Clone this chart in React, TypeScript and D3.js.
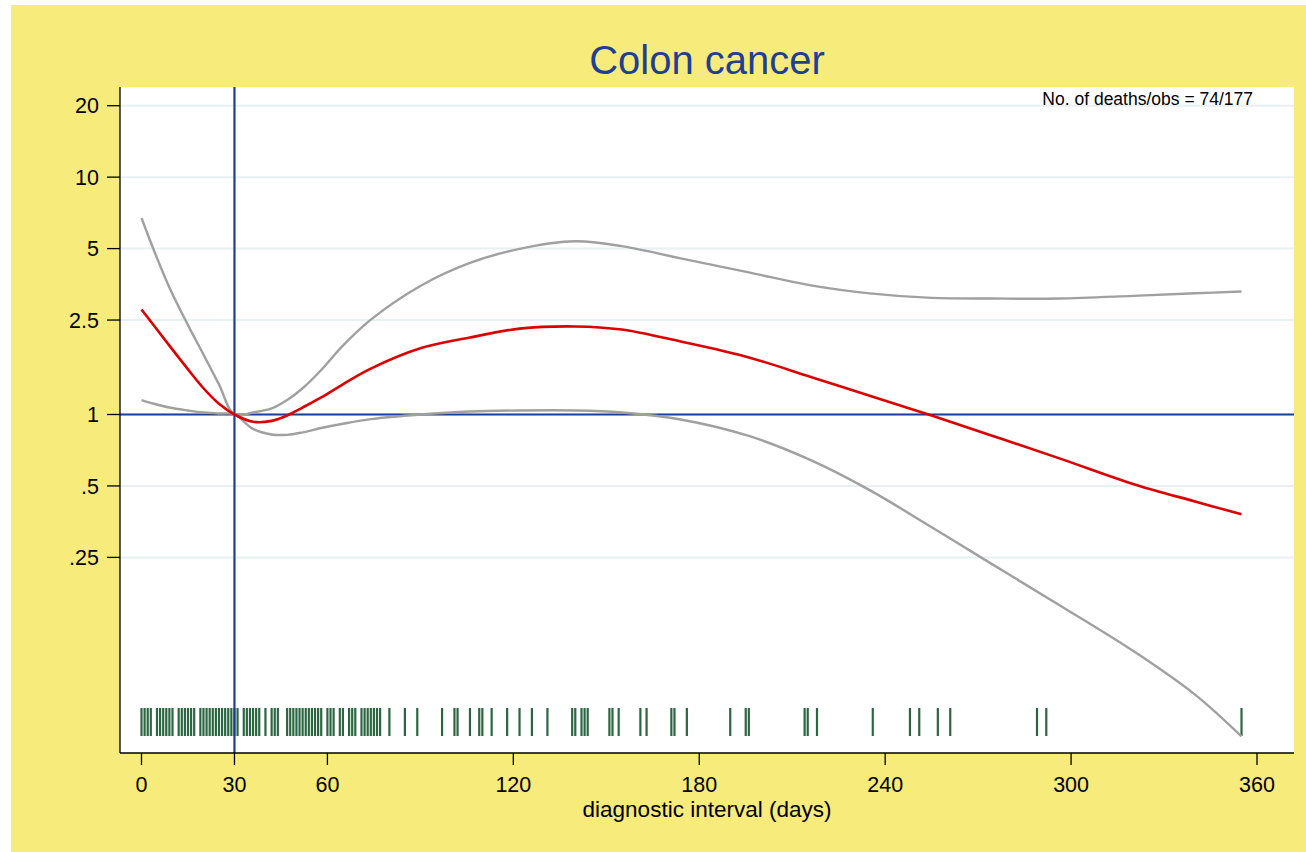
import React, { useRef, useEffect } from 'react';
import * as d3 from 'd3';

// diagnostic interval (days) of each case, shown as the rug along the bottom
const rugDays = [
  0, 1, 2, 3, 5, 6, 7, 8, 9, 10, 12, 13, 14, 15, 16, 17,
  19, 20, 21, 22, 23, 24, 25, 26, 27, 28, 29, 30, 31,
  33, 34, 35, 36, 37, 38, 40, 42, 43, 44,
  47, 48, 49, 50, 51, 52, 53, 54, 55, 56, 57, 58, 60, 61, 62, 64, 65, 67, 68, 69,
  71, 72, 73, 74, 75, 76, 77, 80, 85, 89, 97, 101, 102, 106, 109, 110, 113, 118, 122, 126, 131,
  139, 140, 142, 143, 144, 151, 152, 154, 161, 163, 171, 172, 176, 190, 195, 196,
  214, 215, 218, 236, 248, 251, 257, 261, 289, 292, 355,
];

// spline fit: hazard ratio and 95% CI against diagnostic interval, reference 30 days
const fitDays = [0, 4, 9, 15, 20, 25, 30, 36, 42, 47, 52, 58, 65, 74, 90, 106, 122, 140, 155, 174, 196, 216, 235, 255, 275, 296, 320, 340, 355];
const hr = [2.77, 2.37, 1.95, 1.55, 1.29, 1.11, 1.0, 0.932, 0.94, 0.99, 1.07, 1.18, 1.34, 1.56, 1.9, 2.11, 2.3, 2.35, 2.28, 2.03, 1.74, 1.44, 1.2, 0.99, 0.81, 0.655, 0.51, 0.43, 0.38];
const upper = [6.73, 4.92, 3.43, 2.38, 1.79, 1.34, 1.0, 1.02, 1.06, 1.15, 1.29, 1.54, 1.95, 2.51, 3.48, 4.35, 4.99, 5.37, 5.12, 4.55, 3.97, 3.5, 3.24, 3.1, 3.08, 3.08, 3.16, 3.24, 3.3];
const lower = [1.15, 1.11, 1.07, 1.04, 1.02, 1.01, 1.0, 0.87, 0.824, 0.821, 0.841, 0.877, 0.914, 0.956, 1.0, 1.03, 1.04, 1.04, 1.02, 0.953, 0.812, 0.642, 0.48, 0.335, 0.232, 0.158, 0.101, 0.066, 0.044];

const xTicks = [0, 30, 60, 120, 180, 240, 300, 360];
const yTicks = [20, 10, 5, 2.5, 1, 0.5, 0.25];
const yTickLabels = ['20', '10', '5', '2.5', '1', '.5', '.25'];

const deathsObs = 'No. of deaths/obs = 74/177';

export default function App() {
  const svgRef = useRef<SVGSVGElement>(null);

  useEffect(() => {
    const width = 1306;
    const height = 852;
    const plot = { left: 120, right: 1294, top: 87, bottom: 753 };
    const font = "'Liberation Sans', Arial, Helvetica, sans-serif";

    const svg = d3.select(svgRef.current);
    svg.selectAll('*').remove();

    // yellow graph region
    svg.append('rect')
      .attr('x', 11).attr('y', 5)
      .attr('width', width - 11).attr('height', height - 5)
      .attr('fill', '#f7eb7b');

    // white plot region
    svg.append('rect')
      .attr('x', plot.left).attr('y', plot.top)
      .attr('width', plot.right - plot.left).attr('height', plot.bottom - plot.top)
      .attr('fill', '#ffffff');

    const x = d3.scaleLinear().domain([0, 360]).range([141.5, 1257]);
    const y = d3.scaleLog().base(2).domain([0.25, 20]).range([557.4, 105.7]);

    // grid lines
    svg.append('g')
      .selectAll('line')
      .data(yTicks)
      .enter()
      .append('line')
      .attr('x1', plot.left).attr('x2', plot.right)
      .attr('y1', d => y(d)).attr('y2', d => y(d))
      .attr('stroke', '#e9f0f2')
      .attr('stroke-width', 2);

    // rug
    svg.append('g')
      .selectAll('line')
      .data(rugDays)
      .enter()
      .append('line')
      .attr('x1', d => x(d)).attr('x2', d => x(d))
      .attr('y1', 708).attr('y2', 736)
      .attr('stroke', '#2a6640')
      .attr('stroke-width', 2.2);

    // reference lines: HR = 1 and 30 days
    svg.append('line')
      .attr('x1', plot.left).attr('x2', plot.right)
      .attr('y1', y(1)).attr('y2', y(1))
      .attr('stroke', '#1f3f94').attr('stroke-width', 2.2);
    svg.append('line')
      .attr('x1', x(30)).attr('x2', x(30))
      .attr('y1', plot.top).attr('y2', plot.bottom)
      .attr('stroke', '#1f3f94').attr('stroke-width', 2.2);

    const line = (vals: number[]) =>
      d3.line<number>()
        .x((_, i) => x(fitDays[i]))
        .y(d => y(d))
        .curve(d3.curveCatmullRom.alpha(0.5))(vals);

    svg.append('path').attr('d', line(upper)!)
      .attr('fill', 'none').attr('stroke', '#a0a0a0').attr('stroke-width', 2.4);
    svg.append('path').attr('d', line(lower)!)
      .attr('fill', 'none').attr('stroke', '#a0a0a0').attr('stroke-width', 2.4);
    svg.append('path').attr('d', line(hr)!)
      .attr('fill', 'none').attr('stroke', '#dc0000').attr('stroke-width', 2.6);

    // axes
    svg.append('line')
      .attr('x1', plot.left).attr('x2', plot.left)
      .attr('y1', plot.top).attr('y2', plot.bottom)
      .attr('stroke', '#000').attr('stroke-width', 1.3);
    svg.append('line')
      .attr('x1', plot.left).attr('x2', plot.right)
      .attr('y1', plot.bottom).attr('y2', plot.bottom)
      .attr('stroke', '#000').attr('stroke-width', 1.3);

    const yAxis = svg.append('g');
    yAxis.selectAll('line')
      .data(yTicks)
      .enter()
      .append('line')
      .attr('x1', plot.left - 13).attr('x2', plot.left)
      .attr('y1', d => y(d)).attr('y2', d => y(d))
      .attr('stroke', '#000').attr('stroke-width', 1.3);
    yAxis.selectAll('text')
      .data(yTicks)
      .enter()
      .append('text')
      .attr('x', 99)
      .attr('y', d => y(d))
      .attr('dy', '0.36em')
      .attr('text-anchor', 'end')
      .style('font-family', font)
      .style('font-size', '21.5px')
      .attr('fill', '#000')
      .text((_, i) => yTickLabels[i]);

    const xAxis = svg.append('g');
    xAxis.selectAll('line')
      .data(xTicks)
      .enter()
      .append('line')
      .attr('x1', d => x(d)).attr('x2', d => x(d))
      .attr('y1', plot.bottom).attr('y2', plot.bottom + 12)
      .attr('stroke', '#000').attr('stroke-width', 1.3);
    xAxis.selectAll('text')
      .data(xTicks)
      .enter()
      .append('text')
      .attr('x', d => x(d))
      .attr('y', 792)
      .attr('text-anchor', 'middle')
      .style('font-family', font)
      .style('font-size', '21.5px')
      .attr('fill', '#000')
      .text(d => String(d));

    svg.append('text')
      .attr('x', (plot.left + plot.right) / 2)
      .attr('y', 817)
      .attr('text-anchor', 'middle')
      .style('font-family', font)
      .style('font-size', '22.5px')
      .attr('fill', '#000')
      .text('diagnostic interval (days)');

    // title and note
    svg.append('text')
      .attr('x', (plot.left + plot.right) / 2)
      .attr('y', 74)
      .attr('text-anchor', 'middle')
      .style('font-family', font)
      .style('font-size', '40px')
      .attr('fill', '#1f3f94')
      .text('Colon cancer');

    svg.append('text')
      .attr('x', 1253)
      .attr('y', 105)
      .attr('text-anchor', 'end')
      .style('font-family', font)
      .style('font-size', '17.5px')
      .attr('fill', '#000')
      .text(deathsObs);
  }, []);

  return (
    <div style={{ position: 'fixed', left: 0, top: 0, width: 1306, height: 852, background: '#fff' }}>
      <svg ref={svgRef} width={1306} height={852} viewBox="0 0 1306 852" />
    </div>
  );
}
